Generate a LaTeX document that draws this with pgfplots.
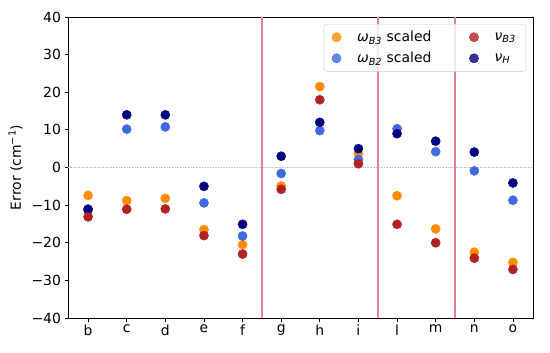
\documentclass[border=0pt]{standalone}
\usepackage{fontspec}
\setmainfont{DejaVu Sans}
\usepackage{pgfplots}
\usepackage{pgfplotstable}
\pgfplotsset{compat=1.18}
\definecolor{cor}{RGB}{255,140,0}
\definecolor{cbl}{RGB}{65,105,225}
\definecolor{cre}{RGB}{178,34,34}
\definecolor{cnv}{RGB}{0,0,128}
\definecolor{sepred}{RGB}{228,128,138}
\pgfplotstableread{
x orange blue red navy
0 -7.4 -11 -13.1 -11.2
1 -8.8 10.2 -11.1 14
2 -8.2 10.8 -11 14
3 -16.5 -9.4 -18.1 -5.0
4 -20.5 -18.2 -23 -15.1
5 -4.9 -1.6 -5.8 3.0
6 21.5 9.8 18 12
7 3.7 2.1 1.0 5.0
8 -7.5 10.3 -15.1 9.0
9 -16.3 4.2 -20 7.0
10 -22.5 -0.9 -24.1 4.1
11 -25.2 -8.7 -27.1 -4.1
}\datatable
\begin{document}
\begin{tikzpicture}
\begin{axis}[
  scale only axis,
  width=465bp, height=301bp,
  xmin=-0.52, xmax=11.52,
  ymin=-40, ymax=40,
  xtick={0,...,11},
  xticklabels={b,c,d,e,f,g,h,i,l,m,n,o},
  ytick={-40,-30,-20,-10,0,10,20,30,40},
  yticklabels={−40,−30,−20,−10,0,10,20,30,40},
  tick align=outside, tick pos=left,
  major tick length=3.5bp,
  every tick/.style={black, line width=0.8bp},
  axis line style={line width=0.8bp},
  tick label style={font=\fontsize{14}{16}\selectfont},
  label style={font=\fontsize{14}{16}\selectfont},
  ylabel={Error (cm\textsuperscript{−1})},
  ylabel style={yshift=2bp},
  legend columns=2,
  transpose legend,
  legend cell align=left,
  legend style={at={(rel axis cs:1,1)}, anchor=north east, xshift=-7bp, yshift=-7bp,
    draw=black!20, rounded corners=3bp, fill=white, fill opacity=0.8, text opacity=1,
    font=\fontsize{14}{16}\selectfont, row sep=5bp, inner xsep=8bp, inner ysep=5bp,
    /tikz/every odd column/.append style={column sep=14bp},
    /tikz/every even column/.append style={column sep=36bp}},
]
\addplot[forget plot, draw=black!25, densely dotted, line width=0.6bp] coordinates {(-0.52,0) (11.52,0)};
\addplot[forget plot, draw=sepred, line width=1.6bp] coordinates {(4.5,-40) (4.5,40)};
\addplot[forget plot, draw=sepred, line width=1.6bp] coordinates {(7.5,-40) (7.5,40)};
\addplot[forget plot, draw=sepred, line width=1.6bp] coordinates {(9.5,-40) (9.5,40)};
\addplot[forget plot, only marks, mark=*, mark size=4.6bp, color=cor] table[x=x, y=orange] {\datatable};
\addplot[forget plot, only marks, mark=*, mark size=4.6bp, color=cbl] table[x=x, y=blue] {\datatable};
\addplot[forget plot, only marks, mark=*, mark size=4.6bp, color=cnv] table[x=x, y=navy] {\datatable};
\addplot[forget plot, only marks, mark=*, mark size=4.6bp, color=cre] table[x=x, y=red] {\datatable};
\addlegendimage{only marks, mark=*, mark size=4.6bp, color=cor}
\addlegendentry{{\itshape ω}\textsubscript{\itshape B3} scaled}
\addlegendimage{only marks, mark=*, mark size=4.6bp, color=cbl}
\addlegendentry{{\itshape ω}\textsubscript{\itshape B2} scaled}
\addlegendimage{only marks, mark=*, mark size=4.6bp, color=cre}
\addlegendentry{{\itshape ν}\textsubscript{\itshape B3}}
\addlegendimage{only marks, mark=*, mark size=4.6bp, color=cnv}
\addlegendentry{{\itshape ν}\textsubscript{\itshape H}}
\end{axis}
\pgfresetboundingbox
\path ([shift={(-68bp,-35bp)}]current axis.south west) rectangle ([shift={(17bp,17bp)}]current axis.north east);
\end{tikzpicture}
\end{document}
